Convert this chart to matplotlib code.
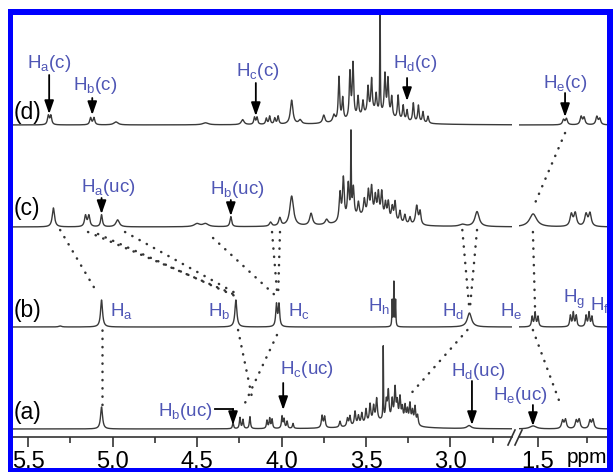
import numpy as np
import matplotlib
matplotlib.use("Agg")
import matplotlib.pyplot as plt
from matplotlib.patches import Rectangle
from matplotlib.lines import Line2D

plt.rcParams['font.family'] = ['Liberation Sans', 'DejaVu Sans']
plt.rcParams['mathtext.fontset'] = 'custom'
plt.rcParams['mathtext.rm'] = 'Liberation Sans'

# vertical offset of each stacked spectrum
base_a, base_b, base_c, base_d = 8, 110, 210, 312

# peak lists: position (ppm), height, half width (ppm)
a_pos = [5.065, 4.287, 4.246, 4.228, 4.187, 4.086, 4.070, 4.056, 3.997, 3.985, 3.967, 3.932,
         3.760, 3.745, 3.654, 3.610, 3.595, 3.565, 3.545, 3.525, 3.500, 3.476, 3.455, 3.437,
         3.398, 3.380, 3.368, 3.345, 3.328, 3.315, 3.299, 3.285, 3.269, 3.255, 3.240, 3.225,
         3.210, 3.195, 3.40, 2.89, 1.525, 1.375, 1.360, 1.305, 1.290, 1.235, 1.220]
a_hgt = [22, 6, 11, 9, 12, 8, 10, 9, 12, 9, 7, 5,
         12, 11, 6, 8, 10, 14, 9, 11, 14, 18, 15, 22,
         72, 18, 28, 20, 32, 18, 24, 14, 17, 13, 20, 13,
         18, 10, 8, 3, 3, 8, 9, 8, 9, 8, 9]
a_wid = [0.007, 0.004, 0.004, 0.004, 0.004, 0.004, 0.004, 0.004, 0.004, 0.004, 0.004, 0.004,
         0.005, 0.005, 0.005, 0.005, 0.005, 0.005, 0.005, 0.005, 0.005, 0.005, 0.005, 0.005,
         0.0015, 0.005, 0.005, 0.005, 0.005, 0.005, 0.005, 0.005, 0.005, 0.005, 0.005, 0.005,
         0.005, 0.005, 0.12, 0.015, 0.02, 0.006, 0.006, 0.006, 0.006, 0.006, 0.006]

b_pos = [5.31, 5.065, 4.27, 4.030, 4.015, 3.345, 3.335, 3.325, 2.888,
         1.530, 1.515, 1.500, 1.335, 1.320, 1.305, 1.255, 1.240, 1.225]
b_hgt = [1, 27, 27, 22, 22, 26, 44, 26, 14, 10, 14, 10, 11, 14, 11, 11, 14, 10]
b_wid = [0.01, 0.007, 0.007, 0.005, 0.005, 0.002, 0.002, 0.002, 0.015,
         0.004, 0.004, 0.004, 0.004, 0.004, 0.004, 0.004, 0.004, 0.004]

c_pos = [5.35, 5.16, 5.14, 5.065, 4.97, 4.50, 4.45, 4.30, 4.065, 4.01, 3.94, 3.825, 3.733,
         3.654, 3.634, 3.605, 3.589, 3.575, 3.545, 3.510, 3.486, 3.467, 3.445, 3.427, 3.407,
         3.385, 3.368, 3.345, 3.328, 3.299, 3.270, 3.240, 3.200, 3.180, 3.50, 2.93, 2.843,
         1.525, 1.330, 1.310, 1.255, 1.235]
c_hgt = [19, 11, 11, 12, 7, 3, 3, 10, 4, 8, 30, 12, 5,
         28, 42, 35, 80, 30, 14, 16, 24, 28, 20, 24, 26,
         16, 18, 14, 20, 12, 9, 7, 19, 13, 10, 2, 15,
         13, 12, 13, 12, 13]
c_wid = [0.008, 0.007, 0.007, 0.006, 0.012, 0.02, 0.02, 0.006, 0.008, 0.008, 0.013, 0.01, 0.01,
         0.006, 0.006, 0.006, 0.002, 0.006, 0.006, 0.006, 0.006, 0.006, 0.006, 0.006, 0.006,
         0.006, 0.006, 0.006, 0.006, 0.006, 0.006, 0.006, 0.008, 0.006, 0.12, 0.02, 0.015,
         0.022, 0.008, 0.008, 0.008, 0.008]

d_pos = [5.38, 5.365, 5.13, 5.11, 4.98, 4.45, 4.23, 4.16, 4.145, 4.09, 4.07, 4.04, 4.02,
         3.94, 3.89, 3.75, 3.69, 3.66, 3.638, 3.595, 3.577, 3.547, 3.518, 3.488, 3.467,
         3.44, 3.417, 3.388, 3.37, 3.348, 3.31, 3.28, 3.257, 3.22, 3.19, 3.163, 3.133, 3.45,
         1.37, 1.355, 1.28, 1.265, 1.20, 1.185]
d_hgt = [9, 9, 7, 7, 3, 2, 5, 7, 7, 6, 8, 6, 8,
         24, 4, 8, 7, 44, 22, 46, 54, 20, 14, 26, 33,
         18, 150, 40, 36, 20, 24, 15, 11, 19, 17, 11, 7, 12,
         5, 6, 8, 7, 8, 6]
d_wid = [0.006, 0.006, 0.006, 0.006, 0.015, 0.02, 0.01, 0.005, 0.005, 0.005, 0.005, 0.005, 0.005,
         0.009, 0.01, 0.008, 0.008, 0.005, 0.005, 0.005, 0.005, 0.005, 0.005, 0.005, 0.005,
         0.005, 0.0015, 0.005, 0.005, 0.005, 0.005, 0.005, 0.005, 0.005, 0.005, 0.005, 0.005, 0.11,
         0.006, 0.006, 0.006, 0.006, 0.006, 0.006]

spectra = [(base_a, a_pos, a_hgt, a_wid), (base_b, b_pos, b_hgt, b_wid),
           (base_c, c_pos, c_hgt, c_wid), (base_d, d_pos, d_hgt, d_wid)]


def lorentz_sum(x, pos, hgt, wid):
    y = np.zeros_like(x)
    for p, h, w in zip(pos, hgt, wid):
        y += h * w**2 / ((x - p)**2 + w**2)
    return y


W, H = 613, 472
fig = plt.figure(figsize=(W / 100, H / 100), dpi=100)

def fx(px):
    return px / W

def fy(py):
    return 1 - py / H

ax_top, ax_bot = 15, 437
axL = fig.add_axes([fx(13), fy(ax_bot), fx(512) - fx(13), (ax_bot - ax_top) / H])
axR = fig.add_axes([fx(519), fy(ax_bot), fx(607) - fx(519), (ax_bot - ax_top) / H])

xL = np.linspace(5.62, 2.60, 30000)
xR = np.linspace(1.62, 1.12, 8000)
line_col = '#3a3a3a'
for base, pos, hgt, wid in spectra:
    axL.plot(xL, base + lorentz_sum(xL, pos, hgt, wid), color=line_col, lw=1.0)
    axR.plot(xR, base + lorentz_sum(xR, pos, hgt, wid), color=line_col, lw=1.0)

axL.set_xlim(5.589, 2.636)
axR.set_xlim(1.597, 1.148)
for ax in (axL, axR):
    ax.set_ylim(0, ax_bot - ax_top)
    for s in ('top', 'left', 'right'):
        ax.spines[s].set_visible(False)
    ax.spines['bottom'].set_linewidth(1.2)
    ax.spines['bottom'].set_color('#333333')
    ax.set_yticks([])
    ax.tick_params(axis='x', which='major', direction='out', length=7, width=1.2,
                   labelsize=17, pad=3, color='#333333')
    ax.tick_params(axis='x', which='minor', direction='out', length=4, width=1.2,
                   color='#333333')
    ax.patch.set_alpha(0)

axL.set_xticks([5.5, 5.0, 4.5, 4.0, 3.5, 3.0])
axL.set_xticklabels(['5.5', '5.0', '4.5', '4.0', '3.5', '3.0'])
axL.set_xticks([5.25, 4.75, 4.25, 3.75, 3.25, 2.75], minor=True)
axR.set_xticks([1.5])
axR.set_xticklabels(['1.5'])
axR.set_xticks([1.25], minor=True)

fig.text(fx(567), fy(467), 'ppm', fontsize=15, va='bottom', ha='left')

# axis break marks
for x0 in (508, 515):
    fig.add_artist(Line2D([fx(x0), fx(x0 + 7)], [fy(445), fy(430)], color='#333333', lw=1.2))

# trace labels
for lab, y in (('(d)', 325), ('(c)', 229), ('(b)', 126), ('(a)', 24)):
    axL.text(5.585, y, lab, fontsize=16.5, va='center', ha='left')

blue = '#4f56b5'
fs = 13.5

def lbl(ax, x, y, s, ha='center'):
    ax.text(x, y, s, fontsize=fs, color=blue, ha=ha, va='center', clip_on=False)

def arrow(ax, x, y0, y1):
    ax.annotate('', xy=(x, y1), xytext=(x, y0),
                arrowprops=dict(arrowstyle='-|>,head_length=0.8,head_width=0.28',
                                color='black', lw=1.3, shrinkA=0, shrinkB=0))

def sub(letter, tail=''):
    return r'H$_{\mathregular{' + letter + '}}$' + tail

# (d)
lbl(axL, 5.376, 373, sub('a', '(c)')); arrow(axL, 5.375, 362, 323)
lbl(axL, 5.104, 351, sub('b', '(c)')); arrow(axL, 5.12, 339, 322)
lbl(axL, 4.139, 365, sub('c', '(c)')); arrow(axL, 4.152, 354, 321)
lbl(axL, 3.21, 373, sub('d', '(c)')); arrow(axL, 3.257, 359, 336)
lbl(axR, 1.362, 353, sub('e', '(c)')); arrow(axR, 1.362, 344, 320)
# (c)
lbl(axL, 5.027, 249, sub('a', '(uc)')); arrow(axL, 5.065, 239, 223)
lbl(axL, 4.263, 247, sub('b', '(uc)')); arrow(axL, 4.30, 237, 221)
# (b)
lbl(axL, 5.015, 125, sub('a'), ha='left')
lbl(axL, 4.30, 125, sub('b'), ha='right')
lbl(axL, 3.96, 125, sub('c'), ha='left')
lbl(axL, 3.358, 130, sub('h'), ha='right')
lbl(axL, 2.92, 125, sub('d'), ha='right')
lbl(axR, 1.577, 125, sub('e'), ha='right')
lbl(axR, 1.316, 138, sub('g'))
lbl(axR, 1.235, 131, sub('f'), ha='left')
# (a)
lbl(axL, 4.405, 25, sub('b', '(uc)'), ha='right')
axL.plot([4.395, 4.287], [28, 28], color='black', lw=1.3)
arrow(axL, 4.287, 28, 12)
lbl(axL, 4.009, 67, sub('c', '(uc)'), ha='left'); arrow(axL, 3.99, 54, 27)
lbl(axL, 2.837, 66, sub('d', '(uc)')); arrow(axL, 2.873, 56, 12)
lbl(axR, 1.592, 41, sub('e', '(uc)')); arrow(axR, 1.526, 32, 11)

# dotted correlation lines between spectra
dot = dict(color='#333333', lw=1.8, linestyle=(0, (0.1, 3.2)), dash_capstyle='round')
left_links = [((5.31, 207), (5.09, 144)),
              ((5.145, 205), (4.287, 143)),
              ((5.086, 203), (4.275, 141)),
              ((4.926, 205), (4.263, 143)),
              ((4.405, 199), (4.04, 142)),
              ((4.056, 205), (4.025, 142)),
              ((4.009, 205), (4.02, 142)),
              ((2.93, 207), (2.888, 127)),
              ((2.843, 207), (2.886, 127)),
              ((5.065, 107), (5.065, 32)),
              ((4.257, 107), (4.175, 40)),
              ((4.027, 102), (4.216, 34)),
              ((2.90, 107), (3.252, 40))]
right_links = [((1.362, 304), (1.526, 229)),
               ((1.526, 205), (1.515, 127)),
               ((1.526, 107), (1.388, 34))]
for ax, links in ((axL, left_links), (axR, right_links)):
    for (x0, y0), (x1, y1) in links:
        ax.plot([x0, x1], [y0, y1], **dot)

# blue frame
for x0, y0, x1, y1 in ((8, 9, 13, 472), (8, 9, 613, 15), (607, 9, 613, 472), (8, 468, 613, 472)):
    fig.add_artist(Rectangle((fx(x0), fy(y1)), fx(x1) - fx(x0), fy(y0) - fy(y1),
                             color='#0000ff', lw=0))

fig.savefig('out.png', dpi=100)
